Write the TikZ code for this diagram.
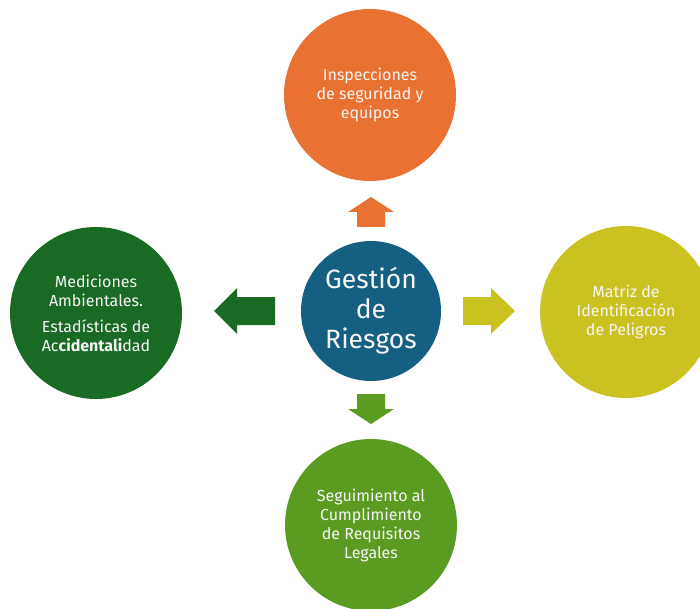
\documentclass[tikz,border=0pt]{standalone}
\usepackage{fontspec}
\setmainfont{Fira Sans}
\definecolor{cOrange}{HTML}{E97132}
\definecolor{cBlue}{HTML}{156082}
\definecolor{cDark}{HTML}{196B24}
\definecolor{cYellow}{HTML}{CAC221}
\definecolor{cGreen}{HTML}{5A9C22}
\definecolor{cText}{HTML}{F6F6F6}
\begin{document}
\begin{tikzpicture}[x=1pt,y=-1pt,
  bub/.style={circle,minimum size=172pt,inner sep=0pt,text=cText,align=center,
    font=\fontsize{16}{19}\selectfont},
  hub/.style={circle,minimum size=140pt,inner sep=0pt,text=cText,align=center,
    fill=cBlue,font=\fontsize{26.5}{30}\selectfont}]
\useasboundingbox (0,0) rectangle (700,609);
\node[hub] (c) at (371,311) {Gestión\\de\\Riesgos};
\node[bub,fill=cOrange] (t) at (370,95) {Inspecciones\\de seguridad y\\equipos};
\node[bub,fill=cDark] (l) at (96,313) {Mediciones\\Ambientales.\\[7pt]Estadísticas de\\Ac\textbf{cidentali}dad};
\node[bub,fill=cYellow] (r) at (626,312) {Matriz de\\Identificación\\de Peligros};
\node[bub,fill=cGreen] (b) at (371,525) {Seguimiento al\\Cumplimiento\\de Requisitos\\Legales};
% arrows
\coordinate (ut) at (371,197);
\fill[cOrange] (ut) -- (394,212) -- (385,212) -- (385,227) -- (357,227) -- (357,212) -- (348,212) -- cycle;
\coordinate (dt) at (371,424);
\fill[cGreen] (dt) -- (394,409) -- (385,409) -- (385,394) -- (357,394) -- (357,409) -- (348,409) -- cycle;
\coordinate (lt) at (214,311);
\fill[cDark] (lt) -- (237,288) -- (237,297) -- (275,297) -- (275,325) -- (237,325) -- (237,334) -- cycle;
\coordinate (rt) at (515,311);
\fill[cYellow] (rt) -- (491,288) -- (491,297) -- (463,297) -- (463,325) -- (491,325) -- (491,334) -- cycle;
\end{tikzpicture}
\end{document}
